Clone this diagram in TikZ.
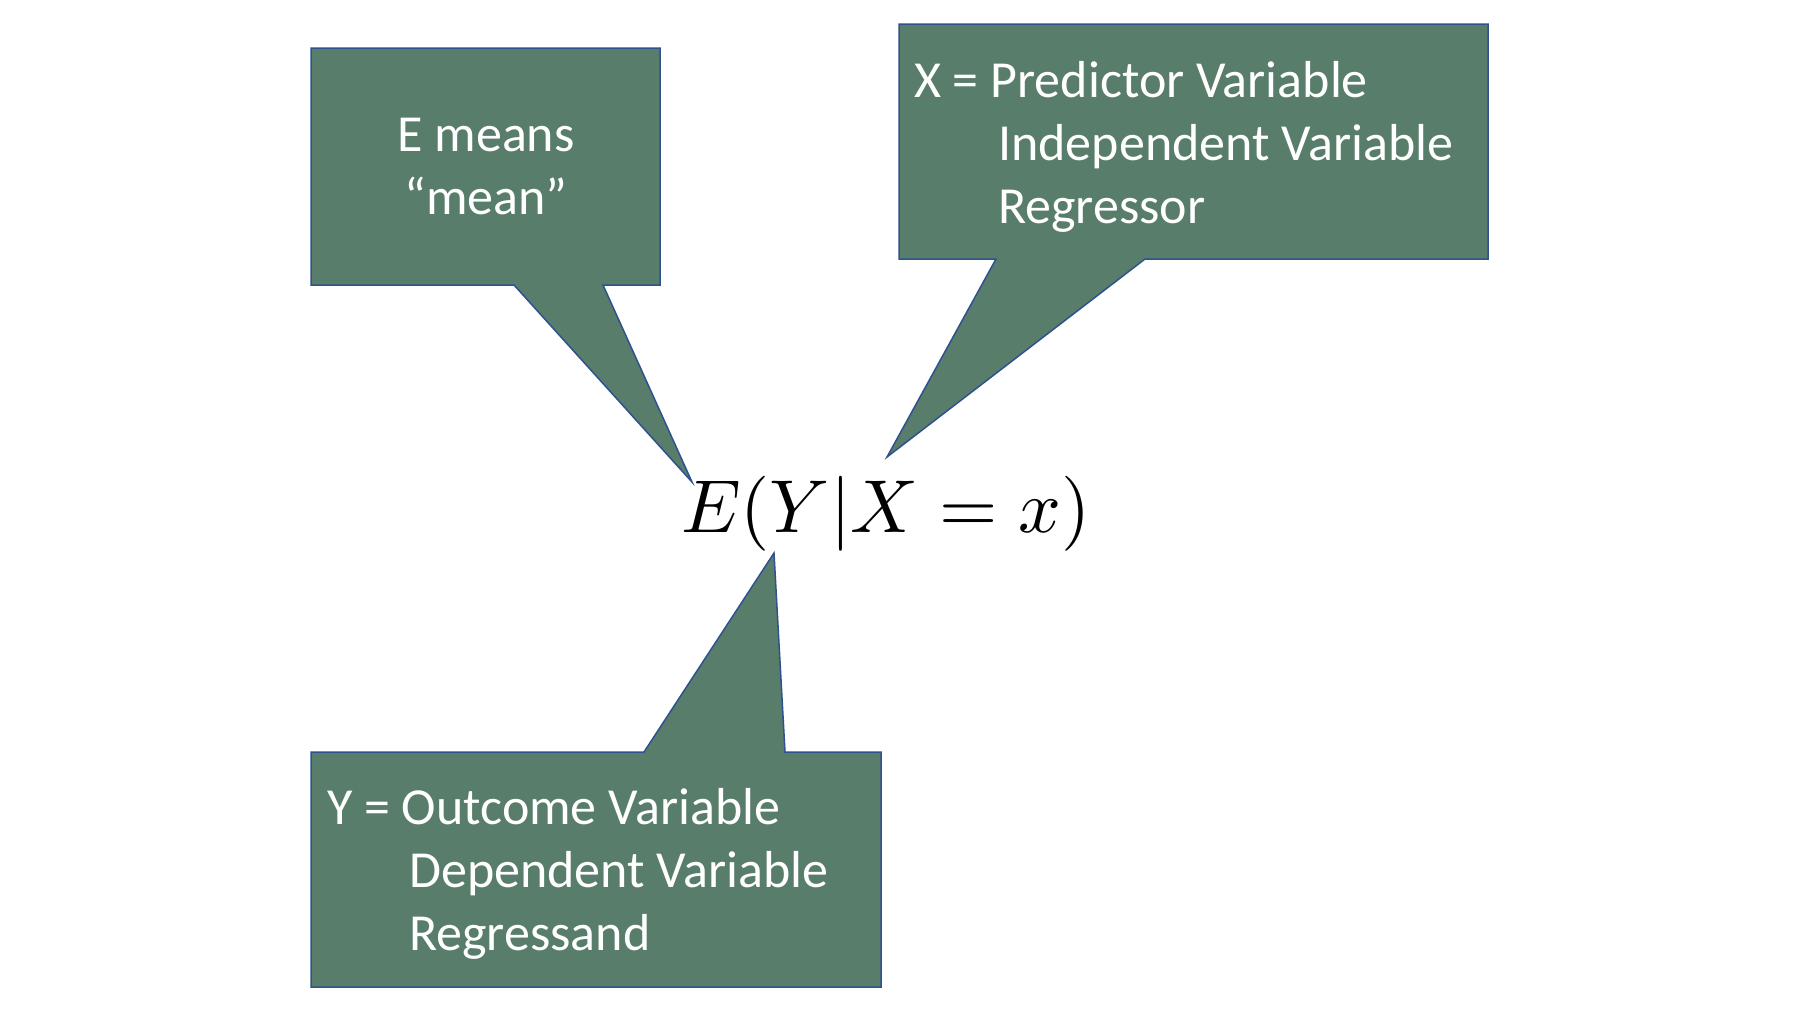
\documentclass[tikz,border=0pt]{standalone}
\usepackage{fontspec}
\setmainfont{Carlito}
\definecolor{boxfill}{RGB}{88,125,106}
\definecolor{boxline}{RGB}{47,82,143}
\begin{document}
\begin{tikzpicture}[x=1pt,y=-1pt,
  callout/.style={fill=boxfill,draw=boxline,line width=1.5pt,line join=miter},
  txt/.style={text=white,font=\fontsize{52}{63}\selectfont,inner sep=0pt}]
\fill[white] (0,0) rectangle (1800,1013);
\path[use as bounding box] (0,0) rectangle (1800,1013);
% equation
\node[inner sep=0pt,anchor=base,scale=7.5] (eq) at (886,532) {$E(Y|X = x)$};
\coordinate (tipE) at (692,482);
\coordinate (tipX) at (887,457);
\coordinate (tipY) at (774,553);
% callout 1
\draw[callout] (311,48) -- (660,48) -- (660,285) -- (603,285) -- (tipE) -- (514,285) -- (311,285) -- cycle;
\node[txt,anchor=base] (e1) at (486,151) {E means};
\node[txt,anchor=base] (e2) at (486,214) {“mean”};
% callout 2
\draw[callout] (899,24) -- (1488,24) -- (1488,259) -- (1145,259) -- (tipX) -- (996,259) -- (899,259) -- cycle;
\node[txt,anchor=base west] (x1) at (914,97) {X = Predictor Variable};
\node[txt,anchor=base west] (x2) at (998,160) {Independent Variable};
\node[txt,anchor=base west] (x3) at (998,223) {Regressor};
% callout 3
\draw[callout] (311,752) -- (644,752) -- (tipY) -- (785,752) -- (881,752) -- (881,987) -- (311,987) -- cycle;
\node[txt,anchor=base west] (y1) at (327,824) {Y = Outcome Variable};
\node[txt,anchor=base west] (y2) at (409,887) {Dependent Variable};
\node[txt,anchor=base west] (y3) at (409,950) {Regressand};
\end{tikzpicture}
\end{document}
